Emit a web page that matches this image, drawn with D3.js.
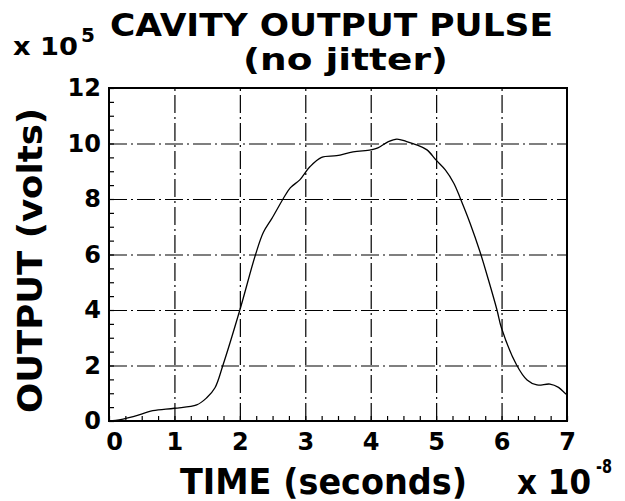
<!DOCTYPE html>
<html>
<head>
<meta charset="utf-8">
<script src="https://cdn.jsdelivr.net/npm/d3@7"></script>
<style>
  body { margin: 0; background: #fff; }
  svg { display: block; }
  text { font-family: "DejaVu Sans", sans-serif; font-weight: bold; fill: #000; }
</style>
</head>
<body>
<div id="cavity-chart"></div>
<script>
// time in units of 1e-8 s, output in units of 1e5 V
var timeVals = [0, 0.1, 0.37, 0.67, 1.0, 1.34, 1.49, 1.62, 1.74, 2.0, 2.24, 2.36, 2.49, 2.66, 2.77,
                2.92, 3.07, 3.25, 3.48, 3.73, 4.0, 4.11, 4.27, 4.40, 4.55, 4.70, 4.86, 5.0, 5.14,
                5.27, 5.37, 5.52, 5.67, 5.80, 5.93, 6.0, 6.23, 6.39, 6.54, 6.74, 6.87, 6.97, 7.0];
var outputVals = [0, 0.02, 0.16, 0.37, 0.46, 0.58, 0.83, 1.2, 2.0, 4.0, 6.0, 6.8, 7.3, 8.0, 8.4,
                  8.7, 9.16, 9.5, 9.56, 9.7, 9.77, 9.84, 10.07, 10.16, 10.07, 9.95, 9.77, 9.4, 9.05,
                  8.57, 8.02, 7.12, 6.1, 5.08, 4.0, 3.34, 2.02, 1.48, 1.30, 1.33, 1.21, 1.0, 0.95];
var xTicks = [0, 1, 2, 3, 4, 5, 6, 7];
var yTicks = [0, 2, 4, 6, 8, 10, 12];

var W = 625, H = 501,
    margin = {top: 88, right: 58, bottom: 80, left: 109},
    width = W - margin.left - margin.right,
    height = H - margin.top - margin.bottom;

var data = timeVals.map(function(t, i) { return {t: t, v: outputVals[i]}; });

var x = d3.scaleLinear().domain([0, 7]).range([0, width]),
    y = d3.scaleLinear().domain([0, 12]).range([height, 0]);

var svg = d3.select("#cavity-chart").append("svg")
    .attr("width", W)
    .attr("height", H);

var g = svg.append("g")
    .attr("transform", "translate(" + margin.left + "," + margin.top + ")");

// dash-dot grid
g.append("g")
    .attr("class", "grid")
    .call(d3.axisLeft(y).tickValues([2, 4, 6, 8, 10]).tickSize(-width).tickFormat(""))
    .call(function(s) { s.select(".domain").remove(); });
g.append("g")
    .attr("class", "grid")
    .attr("transform", "translate(0," + height + ")")
    .call(d3.axisBottom(x).tickValues([1, 2, 3, 4, 5, 6]).tickSize(-height).tickFormat(""))
    .call(function(s) { s.select(".domain").remove(); });
g.selectAll(".grid line")
    .attr("stroke", "#000")
    .attr("stroke-width", 1.2)
    .attr("stroke-dasharray", "18,4,2,4");

// minor ticks inside the frame
g.append("g")
    .attr("class", "minor")
    .call(d3.axisLeft(y).tickValues(d3.range(0, 12.01, 0.5)).tickSize(-5).tickFormat(""));
g.append("g")
    .attr("class", "minor")
    .attr("transform", "translate(0," + height + ")")
    .call(d3.axisBottom(x).tickValues(d3.range(0, 7.01, 0.25)).tickSize(-5).tickFormat(""));
g.selectAll(".minor .domain").remove();
g.selectAll(".minor line").attr("stroke", "#000").attr("stroke-width", 1.2);

// tick labels
var yAx = g.append("g")
    .call(d3.axisLeft(y).tickValues(yTicks).tickSize(0).tickPadding(8).tickFormat(d3.format("d")));
var xAx = g.append("g")
    .attr("transform", "translate(0," + height + ")")
    .call(d3.axisBottom(x).tickValues(xTicks).tickSize(0).tickPadding(12).tickFormat(d3.format("d")));
[yAx, xAx].forEach(function(a) {
  a.select(".domain").remove();
  a.selectAll("text")
      .attr("font-family", "DejaVu Sans, sans-serif")
      .attr("font-weight", "bold")
      .attr("font-size", 24)
      .attr("fill", "#000");
});
// first x label sits a little right of the corner, as in the original
xAx.selectAll("text").filter(function(d) { return d === 0; }).attr("dx", 5);

// the pulse
var line = d3.line()
    .x(function(d) { return x(d.t); })
    .y(function(d) { return y(d.v); })
    .curve(d3.curveCatmullRom);

g.append("path")
    .datum(data)
    .attr("fill", "none")
    .attr("stroke", "#000")
    .attr("stroke-width", 1.3)
    .attr("d", line);

// frame
g.append("rect")
    .attr("width", width)
    .attr("height", height)
    .attr("fill", "none")
    .attr("stroke", "#000")
    .attr("stroke-width", 2);

// titles and labels
svg.append("text")
    .attr("x", 110).attr("y", 36)
    .attr("font-size", 32)
    .attr("textLength", 443).attr("lengthAdjust", "spacingAndGlyphs")
    .text("CAVITY OUTPUT PULSE");
svg.append("text")
    .attr("x", 243).attr("y", 70)
    .attr("font-size", 30)
    .attr("textLength", 205).attr("lengthAdjust", "spacingAndGlyphs")
    .text("(no jitter)");

svg.append("text")
    .attr("x", 13).attr("y", 55)
    .attr("font-size", 25)
    .attr("textLength", 65).attr("lengthAdjust", "spacingAndGlyphs")
    .text("x 10");
svg.append("text")
    .attr("x", 81).attr("y", 42)
    .attr("font-size", 20)
    .text("5");

svg.append("text")
    .attr("transform", "translate(42," + (margin.top + height / 2 + 6) + ") rotate(-90)")
    .attr("text-anchor", "middle")
    .attr("font-size", 33)
    .attr("textLength", 305).attr("lengthAdjust", "spacingAndGlyphs")
    .text("OUTPUT (volts)");

svg.append("text")
    .attr("x", 180).attr("y", 494)
    .attr("font-size", 35)
    .attr("textLength", 287).attr("lengthAdjust", "spacingAndGlyphs")
    .text("TIME (seconds)");

svg.append("text")
    .attr("x", 517).attr("y", 494)
    .attr("font-size", 34)
    .attr("textLength", 74).attr("lengthAdjust", "spacingAndGlyphs")
    .text("x 10");
svg.append("text")
    .attr("x", 596).attr("y", 473)
    .attr("font-size", 20)
    .attr("textLength", 16).attr("lengthAdjust", "spacingAndGlyphs")
    .text("-8");
</script>
</body>
</html>
